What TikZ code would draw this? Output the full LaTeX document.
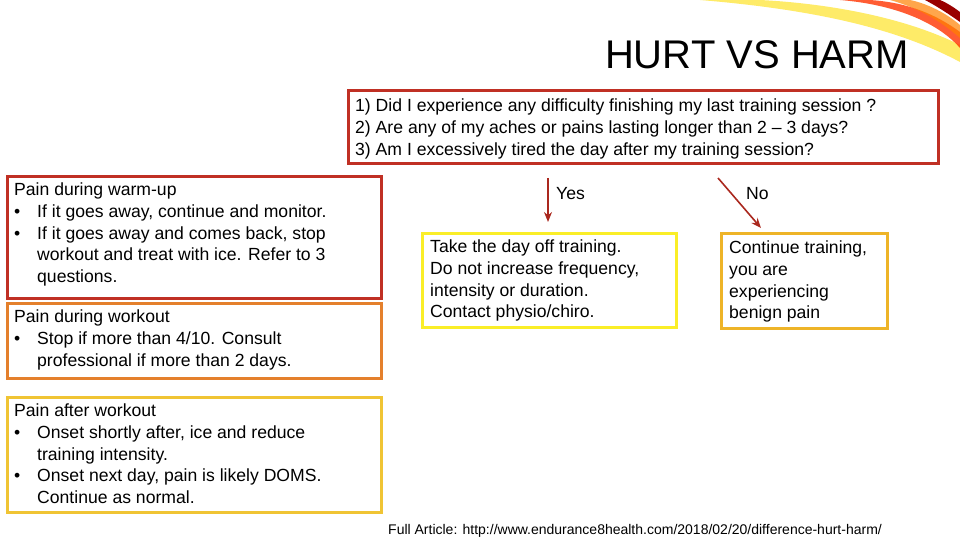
\documentclass[tikz,border=0pt]{standalone}
\usepackage{fontspec}
\usetikzlibrary{arrows.meta}
\setmainfont{Liberation Sans}
\definecolor{cred}{RGB}{192,48,36}
\definecolor{corange}{RGB}{228,128,44}
\definecolor{cgold}{RGB}{240,196,52}
\definecolor{cyel}{RGB}{250,238,40}
\definecolor{cnog}{RGB}{238,180,40}
\definecolor{carrow}{RGB}{170,40,30}
\newcommand{\bl}{\makebox[23pt][l]{•}}
\newcommand{\ind}{\hspace*{23pt}}
\begin{document}
\begin{tikzpicture}[x=1pt,y=-1pt,
  box/.style={draw,line width=3pt},
  txt/.style={anchor=north west,align=left,inner sep=0pt,font=\fontsize{17.6}{21.6}\selectfont},
  arr/.style={draw=carrow,line width=1.6pt,-{Stealth[length=10pt,width=8pt]}}]
\useasboundingbox (0,0) rectangle (960,540);
% swoosh
\fill[yellow!80!orange,opacity=0.6] (700,0) .. controls (820,10) and (900,30) .. (960,62) -- (960,45) .. controls (900,15) and (820,3) .. (760,0) -- cycle;
\fill[red!80!yellow,opacity=0.8] (840,0) .. controls (900,5) and (940,25) .. (960,48) -- (960,32) .. controls (930,10) and (900,2) .. (870,0) -- cycle;
\fill[orange,opacity=0.7] (890,0) .. controls (925,10) and (945,25) .. (960,38) -- (960,25) .. controls (945,12) and (925,3) .. (910,0) -- cycle;
\fill[red!60!black] (925,0) .. controls (940,8) and (950,15) .. (960,22) -- (960,12) .. controls (952,6) and (945,2) .. (940,0) -- cycle;
\node[anchor=base east,inner sep=0pt,font=\fontsize{40}{40}\selectfont] (title) at (909,69) {HURT VS HARM};
\draw[box,cred] (348,91) rectangle (938,164);
\draw[box,cred] (7,177) rectangle (381,298);
\draw[box,corange] (7,303) rectangle (381,378);
\draw[box,cgold] (7,397) rectangle (381,512);
\draw[box,cyel] (422,233) rectangle (676,327);
\draw[box,cnog] (721,233) rectangle (887,328);
\node[txt] (q) at (355,99) {1) Did I experience any difficulty finishing my last training session ?\\2) Are any of my aches or pains lasting longer than 2 – 3 days?\\3) Am I excessively tired the day after my training session?};
\node[txt] (w) at (14,183) {Pain during warm-up\\\bl If it goes away, continue and monitor.\\\bl If it goes away and comes back, stop\\\ind workout and treat with ice. Refer to 3\\\ind questions.};
\node[txt] (d) at (14,310) {Pain during workout\\\bl Stop if more than 4/10. Consult\\\ind professional if more than 2 days.};
\node[txt] (a) at (14,404) {Pain after workout\\\bl Onset shortly after, ice and reduce\\\ind training intensity.\\\bl Onset next day, pain is likely DOMS.\\\ind Continue as normal.};
\node[txt] (y) at (430,240) {Take the day off training.\\Do not increase frequency,\\intensity or duration.\\Contact physio/chiro.};
\node[txt] (n) at (729,241) {Continue training,\\you are\\experiencing\\benign pain};
\node[txt] (yl) at (556,187) {Yes};
\node[txt] (nl) at (746,187) {No};
\coordinate (ys) at (548,178); \coordinate (ye) at (548,222);
\coordinate (ns) at (718,178); \coordinate (ne) at (761,228);
\draw[arr] (ys) -- (ye);
\draw[arr] (ns) -- (ne);
\node[anchor=base west,inner sep=0pt,font=\fontsize{14}{14}\selectfont] (f) at (388,534) {Full Article: http://www.endurance8health.com/2018/02/20/difference-hurt-harm/};
\end{tikzpicture}
\end{document}
